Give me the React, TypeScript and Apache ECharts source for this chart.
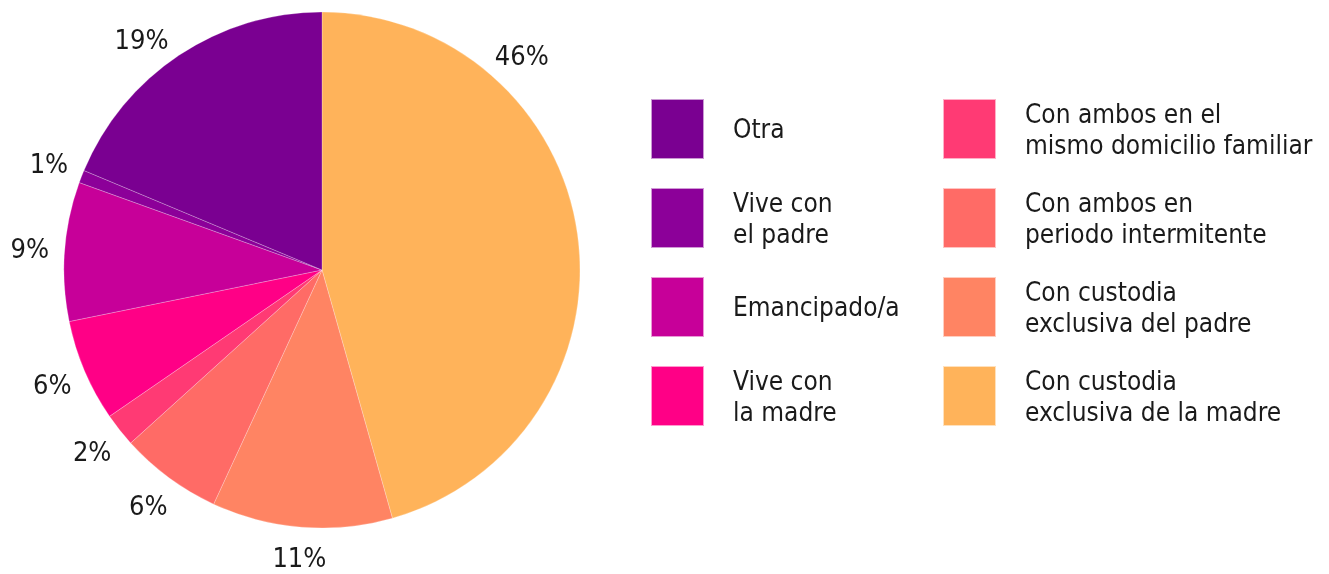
import React, { useEffect, useRef } from "react";
import * as echarts from "echarts";

const categories = [
  "Con custodia exclusiva de la madre",
  "Con custodia exclusiva del padre",
  "Con ambos en periodo intermitente",
  "Con ambos en el mismo domicilio familiar",
  "Vive con la madre",
  "Emancipado/a",
  "Vive con el padre",
  "Otra",
];
const values = [45.6, 11.3, 6.4, 2.1, 6.4, 8.7, 0.8, 18.7];
const colors = ["#ffb35a", "#ff8463", "#ff6b66", "#ff3a74", "#ff0086", "#c70099", "#8c0099", "#7a0091"];

const legendLeft = ["Otra", "Vive con el padre", "Emancipado/a", "Vive con la madre"];
const legendRight = [
  "Con ambos en el mismo domicilio familiar",
  "Con ambos en periodo intermitente",
  "Con custodia exclusiva del padre",
  "Con custodia exclusiva de la madre",
];
const legendText: Record<string, string> = {
  "Otra": "Otra",
  "Vive con el padre": "Vive con\nel padre",
  "Emancipado/a": "Emancipado/a",
  "Vive con la madre": "Vive con\nla madre",
  "Con ambos en el mismo domicilio familiar": "Con ambos en el\nmismo domicilio familiar",
  "Con ambos en periodo intermitente": "Con ambos en\nperiodo intermitente",
  "Con custodia exclusiva del padre": "Con custodia\nexclusiva del padre",
  "Con custodia exclusiva de la madre": "Con custodia\nexclusiva de la madre",
};

const FONT = "'Liberation Sans Narrow', 'DejaVu Sans Condensed', 'Open Sans', sans-serif";

export default function App() {
  const ref = useRef<HTMLDivElement>(null);
  useEffect(() => {
    if (!ref.current) return;
    const chart = echarts.init(ref.current, undefined, { renderer: "svg" });
    const cx = 322, cy = 270, R = 258;
    const total = values.reduce((a, b) => a + b, 0);
    const mids: number[] = [];
    const radii: number[] = [];
    let acc = 0;
    values.forEach((v) => {
      mids.push(((acc + v / 2) / total) * 360);
      radii.push(293);
      acc += v;
    });
    mids[0] = 43;
    mids[7] = 322;
    radii[1] = 288;
    const legendCommon = {
      orient: "vertical" as const,
      top: 98,
      itemWidth: 53,
      itemHeight: 60,
      itemGap: 27,
      padding: 0,
      icon: "rect",
      selectedMode: false,
      formatter: (n: string) => legendText[n] || n,
      textStyle: { fontFamily: FONT, fontSize: 26, lineHeight: 31, color: "#1a1a1a", padding: [0, 0, 0, 24] },
    };
    chart.setOption({
      animation: false,
      color: colors,
      legend: [
        { ...legendCommon, left: 650, data: legendLeft },
        { ...legendCommon, left: 942, data: legendRight },
      ],
      series: [
        {
          type: "pie",
          center: [cx, cy],
          radius: R,
          startAngle: 90,
          clockwise: true,
          avoidLabelOverlap: false,
          minShowLabelAngle: 0,
          data: categories.map((c, i) => ({ name: c, value: values[i] })),
          itemStyle: { borderColor: "rgba(255,255,255,0.6)", borderWidth: 0.4 },
          label: {
            show: true,
            position: "outside",
            formatter: (p: any) => Math.round(p.value) + "%",
            fontFamily: FONT,
            fontSize: 27,
            lineHeight: 24,
            color: "#1a1a1a",
            overflow: "none",
            edgeDistance: 0,
          },
          labelLine: { show: false },
          labelLayout: (p: any) => {
            const a = (mids[p.dataIndex] * Math.PI) / 180;
            const r = radii[p.dataIndex];
            return {
              x: cx + r * Math.sin(a),
              y: cy - r * Math.cos(a),
              align: "center",
              verticalAlign: "middle",
              hideOverlap: false,
            };
          },
        },
      ],
    });
    return () => chart.dispose();
  }, []);
  return <div ref={ref} style={{ position: "fixed", left: 0, top: 0, width: 1329, height: 574 }} />;
}
